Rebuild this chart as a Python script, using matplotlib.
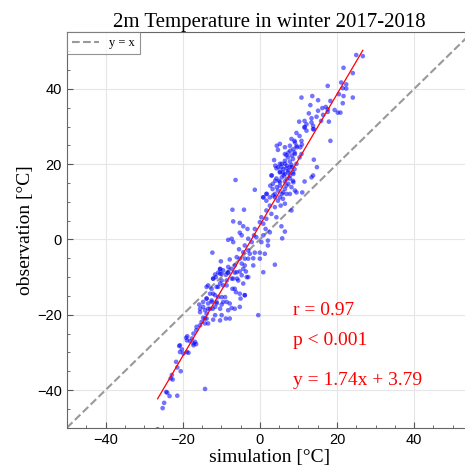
import matplotlib
matplotlib.use("Agg")
import matplotlib.pyplot as plt
from matplotlib.ticker import MultipleLocator
import numpy as np

# points (simulation, observation) in degC
sim = [
    -20.9, -20.2, -20.7, -19.8, -18.9, -18.5, -17.2, -16.5, -16.8, -18.9,
    -21.7, -21.4, -20.5, -22.8, -23.1, -22.6, -24.3, -24.0, -23.4, -21.4,
    -14.2, -24.8, -25.2, -26.5,
    -10.3, -9.5, -10.8, -9.9, -8.8, -8.2, -7.3, -6.5, -5.2, -4.3,
    -3.6, -3.0, -5.9, -7.3, -8.6, -11.4, -12.1, 0.9, -13.8, -12.5,
    -11.2, -10.3, -9.5, -7.1, -6.2, -3.9, -5.0, -12.9, -11.6, -10.8,
    -9.0, -13.8, -12.5, -14.7, -13.4, -11.2, -8.6, -9.9, -7.3, -5.2,
    -15.7, -15.5, -14.2, -13.4, -12.2, -11.6, -14.7, -13.8, -15.1, -13.4,
    -14.2, -15.5, -16.4, -10.3, -8.8, -0.4, -16.5, -17.2, -18.8, -19.1,
    -17.6, -18.1, -17.2, -20.7,
    0.9, 1.7, 3.9, 4.7, 6.0, 6.5, 2.6, 3.9, 5.4, 1.7,
    3.0, 8.2, -7.1, -4.1, 4.3, 0.4, 1.7, -6.9, -5.2, 0.0,
    0.9, 5.6, -4.3, -3.2, -1.3, 1.5, 2.6, 6.5, -5.2, -4.7,
    -1.5, -0.9, 0.9, 5.8, -8.2, -7.3, -6.9, -3.0, -2.1, 0.4,
    2.1, 2.1, -3.9, -5.4, -4.3, -3.0, -2.6, -1.3, 0.0, 1.3,
    -12.3, -6.0, -5.2, -3.9, -3.0, -1.7, 0.0, -7.8, -10.1, -4.7,
    -3.9, -6.5, -8.2, 3.9, -10.3, -1.7,
    11.6, 12.1, 13.8, 9.5, 10.3, 8.2, 9.0, 10.8, 18.3, 9.5,
    10.5, 4.7, 7.9, 9.0, 10.8, 6.9, 7.3, 10.3, 3.7, 6.5,
    7.8, 8.6, 14.0, 5.2, 6.5, 8.2, 9.5, 4.3, 5.6, 6.9,
    7.8, 9.0, 14.8, 5.2, 6.0, 7.3, 8.6, 3.0, 6.2, 4.3,
    7.8, 13.4, 13.8, -6.3, 5.0, 6.5, 8.6, 11.6, 3.4, 5.2,
    6.9, 8.2, 3.3, -1.3, 4.7, 6.0, 9.5, 11.0, 1.7, 3.9,
    6.9, 0.9, 5.2, 2.6,
    25.0, 26.7, 21.7, 24.1, 21.1, 22.4, 17.6, 21.5, 22.4, 20.5,
    21.7, 24.1, 10.8, 13.6, 15.1, 18.3, 21.5, 13.1, 17.1, 16.2,
    17.6, 19.4, 20.2, 20.9, 15.1, 17.6, 12.7, 16.4, 14.7, 13.4,
    11.6, 10.2, 13.4, 15.9, 17.9, 12.1, 13.8, 11.6, 14.0,
]
obs = [
    -28.3, -29.2, -29.9, -30.3, -29.9, -30.1, -28.1, -27.8, -27.2, -26.8,
    -32.5, -34.0, -35.0, -36.0, -36.9, -37.2, -40.5, -40.7, -41.6, -41.5,
    -39.7, -43.4, -44.8, -50.4,
    -7.9, -8.2, -8.8, -9.1, -9.4, -8.7, -7.8, -8.8, -8.5, -7.8,
    -8.5, -10.0, -10.4, -10.4, -10.9, -10.0, -10.4, -8.7, -12.6, -13.1,
    -12.6, -11.7, -12.2, -13.1, -14.0, -14.8, -15.7, -14.4, -14.8, -15.3,
    -15.3, -15.7, -16.2, -16.6, -17.0, -16.6, -16.6, -17.3, -18.2, -17.9,
    -17.3, -18.4, -18.8, -18.4, -18.4, -17.9, -20.8, -21.0, -21.9, -22.3,
    -22.3, -22.8, -23.2, -21.5, -21.0, -20.1, -24.1, -25.0, -25.7, -26.1,
    -26.3, -27.0, -27.6, -28.1,
    11.2, 10.3, 11.2, 10.3, 10.8, 9.5, 9.0, 8.6, 9.0, 7.7,
    6.8, 7.7, 7.9, 7.9, 5.9, 5.9, 5.5, 4.8, 4.4, 4.6,
    4.2, 3.5, 3.5, 2.8, 2.8, 2.8, 1.9, 2.1, 1.8, 1.1,
    1.1, 0.6, 1.1, 0.3, -0.1, 0.2, -0.7, 0.2, -0.7, -0.7,
    -0.3, -1.6, -1.6, -2.6, -3.4, -2.9, -3.8, -3.5, -3.5, -3.8,
    -3.5, -4.7, -5.1, -5.1, -5.1, -5.0, -5.1, -5.3, -5.8, -6.4,
    -6.9, -6.9, -7.3, -6.7, -7.8, -6.9,
    29.7, 28.9, 29.3, 28.3, 27.5, 26.7, 26.2, 26.2, 26.2, 24.9,
    24.5, 23.8, 23.6, 23.1, 22.7, 22.4, 21.8, 21.8, 21.1, 20.9,
    20.7, 21.4, 21.2, 20.1, 20.1, 19.8, 20.1, 18.9, 19.2, 18.9,
    19.2, 18.7, 19.2, 18.0, 17.8, 17.8, 17.8, 17.0, 17.0, 16.2,
    16.2, 16.5, 17.0, 15.8, 15.6, 15.4, 15.6, 15.4, 14.8, 14.3,
    14.3, 13.9, 13.4, 13.2, 13.0, 12.5, 12.5, 12.5, 12.1, 12.1,
    12.1, 11.2, 11.2, 11.2,
    49.0, 48.7, 45.6, 44.2, 41.7, 41.2, 40.8, 40.2, 40.1, 38.6,
    38.1, 37.7, 37.7, 38.1, 37.0, 36.8, 36.2, 35.7, 35.2, 34.9,
    34.6, 34.4, 33.7, 33.7, 34.2, 33.9, 33.5, 33.1, 32.6, 32.2,
    31.5, 31.3, 31.1, 31.5, 31.3, 30.6, 30.2, 29.9, 29.3,
]

# extra points from the two densest clusters
sim_dense = [
    4.4, 5.2, 6.5, 7.8, 9.1, 8.7, 9.6, 10.9, 6.5, 7.4,
    8.3, 9.1, 4.0, 4.8, 5.7, 6.1, 7.0, 7.4, 8.3, 5.2,
    6.5, 7.8, 8.7, 5.7, 7.0, 3.1, 4.0, 5.2, 7.4, 8.7,
    2.7, 4.4, 6.5, 9.1, 1.8, 3.5, 5.7, 7.8,
    -11.6, -10.3, -8.2, -6.0, -4.7, -3.4, -12.1, -9.9, -6.9, -5.6,
    -4.3, -13.4, -10.8, -8.6, -6.5, -5.2, -3.9, -12.1, -9.9, -13.8,
    -12.5, -11.2, -9.5, -7.8, -14.7, -12.9, -10.3, -8.2, -6.5, -15.5,
    -13.8, -11.6, -9.9, -14.2, -12.1, -7.8,
]
obs_dense = [
    24.9, 25.4, 24.5, 24.9, 25.8, 24.0, 24.5, 25.2, 22.7, 23.1,
    22.3, 22.7, 19.6, 19.2, 20.1, 18.7, 19.6, 18.3, 19.2, 17.8,
    17.4, 17.0, 17.4, 16.5, 16.1, 17.0, 15.6, 15.2, 14.8, 15.2,
    14.3, 13.9, 13.4, 13.0, 12.1, 11.7, 12.1, 12.1,
    -9.3, -9.1, -8.9, -8.7, -9.5, -10.0, -10.4, -10.9, -10.4, -10.9,
    -11.7, -12.2, -12.6, -12.2, -13.1, -14.4, -14.8, -14.4, -15.3, -15.7,
    -16.6, -17.0, -16.6, -17.0, -17.9, -18.4, -18.4, -18.8, -18.4, -19.3,
    -19.7, -20.1, -20.1, -21.0, -21.3, -21.0,
]

slope = 1.74
intercept = 3.79
r_text = "r = 0.97"
p_text = "p < 0.001"

x_all = np.array(sim + sim_dense)
y_all = np.array(obs + obs_dense)

serif = ["Liberation Serif", "DejaVu Serif"]
sans = ["Liberation Sans", "DejaVu Sans"]

fig = plt.figure(figsize=(4.65, 4.70), dpi=100)
ax = fig.add_axes([0.144, 0.09, 0.871, 0.841])

ax.grid(True, color="#e6e6e6", linewidth=0.8, zorder=0)
ax.scatter(x_all, y_all, s=11, color="blue", alpha=0.55, edgecolors="none", zorder=3)

xs = np.array([x_all.min(), x_all.max()])
ax.plot(xs, slope * xs + intercept, color="red", linewidth=0.9, zorder=4)

lim = np.array([-50, 55])
ax.plot(lim, lim, color="#999999", linestyle="--", linewidth=1.5, label="y = x", zorder=2)

ax.set_xlim(-50, 55)
ax.set_ylim(-50, 55)
ax.xaxis.set_major_locator(MultipleLocator(20))
ax.yaxis.set_major_locator(MultipleLocator(20))
ax.xaxis.set_minor_locator(MultipleLocator(5))
ax.yaxis.set_minor_locator(MultipleLocator(5))
ax.tick_params(which="both", direction="in", colors="#555555", labelcolor="black")
ax.tick_params(which="major", length=4)
ax.tick_params(which="minor", length=2.5)
for lab in ax.get_xticklabels() + ax.get_yticklabels():
    lab.set_fontfamily(sans)
    lab.set_fontsize(10.5)
for sp in ax.spines.values():
    sp.set_color("#666666")

ax.set_title("2m Temperature in winter 2017-2018", family=serif, fontsize=15, pad=3)
ax.set_xlabel("simulation [°C]", family=serif, fontsize=14, labelpad=2)
ax.set_ylabel("observation [°C]", family=serif, fontsize=14, labelpad=2)

ax.text(8.5, -18.8, r_text, color="red", family=serif, fontsize=14, va="center")
ax.text(8.5, -26.8, p_text, color="red", family=serif, fontsize=14, va="center")
ax.text(8.5, -37.4, "y = %.2fx + %.2f" % (slope, intercept), color="red",
        family=serif, fontsize=14, va="center")

leg = ax.legend(loc="upper left", borderaxespad=0, fancybox=False,
                prop={"family": serif, "size": 9}, handlelength=2.2)
leg.get_frame().set_edgecolor("#777777")
leg.get_frame().set_linewidth(0.8)

fig.savefig("out.png", dpi=100)
